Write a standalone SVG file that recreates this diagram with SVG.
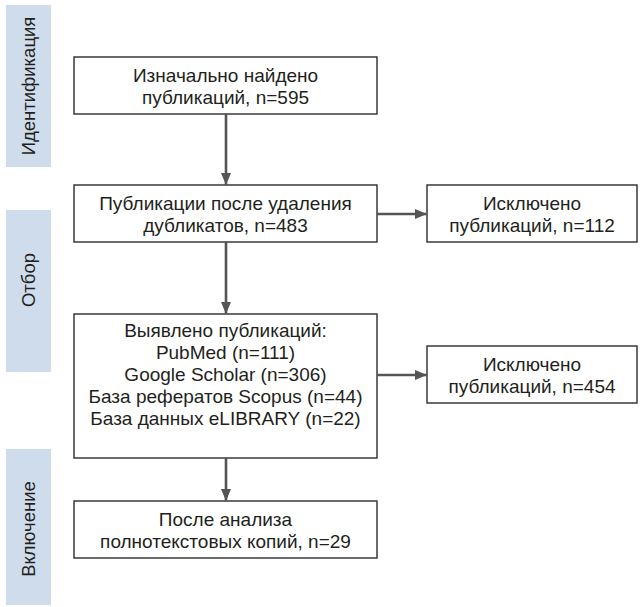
<svg xmlns="http://www.w3.org/2000/svg" width="643" height="607" viewBox="0 0 643 607">
<defs>
<style>
.bar{fill:#cfdcec}
.box{fill:#fff;stroke:#2b2b2b;stroke-width:1.4}
.t{font-family:"Liberation Sans",Arial,sans-serif;font-size:19px;fill:#231f20;text-anchor:middle}
.s{font-family:"Liberation Sans",Arial,sans-serif;font-size:18.5px;fill:#231f20;text-anchor:middle}
.c{stroke:#555;stroke-width:2.6;fill:none}
</style>
<marker id="ah" viewBox="0 0 12 10" refX="12" refY="5" markerWidth="12" markerHeight="10" markerUnits="userSpaceOnUse" orient="auto">
<path d="M0,0 L12,5 L0,10 Z" fill="#555"/>
</marker>
</defs>
<rect width="643" height="607" fill="#fff"/>
<g id="stage-identification">
<rect class="bar" x="6" y="5" width="45" height="162"/>
<text class="s" transform="translate(35,86) rotate(-90)">Идентификация</text>
</g>
<g id="stage-screening">
<rect class="bar" x="6" y="210" width="45" height="162"/>
<text class="s" transform="translate(35,280) rotate(-90)">Отбор</text>
</g>
<g id="stage-inclusion">
<rect class="bar" x="6" y="449" width="45" height="156"/>
<text class="s" transform="translate(35,529) rotate(-90)">Включение</text>
</g>
<g id="n1">
<rect class="box" x="74" y="57" width="303" height="57"/>
<text class="t" x="225.5" y="82">Изначально найдено</text>
<text class="t" x="225.5" y="104">публикаций, n=595</text>
</g>
<g id="n2">
<rect class="box" x="74" y="185" width="303" height="57"/>
<text class="t" x="225.5" y="210">Публикации после удаления</text>
<text class="t" x="225.5" y="232">дубликатов, n=483</text>
</g>
<g id="n3">
<rect class="box" x="427" y="185" width="210" height="57"/>
<text class="t" x="532" y="210">Исключено</text>
<text class="t" x="532" y="232">публикаций, n=112</text>
</g>
<g id="n4">
<rect class="box" x="74" y="314" width="303" height="144"/>
<text class="t" x="225.5" y="337">Выявлено публикаций:</text>
<text class="t" x="225.5" y="359">PubMed (n=111)</text>
<text class="t" x="225.5" y="381">Google Scholar (n=306)</text>
<text class="t" x="225.5" y="403">База рефератов Scopus (n=44)</text>
<text class="t" x="225.5" y="425">База данных eLIBRARY (n=22)</text>
</g>
<g id="n5">
<rect class="box" x="427" y="346" width="210" height="57"/>
<text class="t" x="532" y="371">Исключено</text>
<text class="t" x="532" y="393">публикаций, n=454</text>
</g>
<g id="n6">
<rect class="box" x="74" y="501" width="303" height="57"/>
<text class="t" x="225.5" y="526">После анализа</text>
<text class="t" x="225.5" y="548">полнотекстовых копий, n=29</text>
</g>
<g id="connectors">
<line class="c" x1="226" y1="114" x2="226" y2="185" marker-end="url(#ah)"/>
<line class="c" x1="226" y1="242" x2="226" y2="314" marker-end="url(#ah)"/>
<line class="c" x1="226" y1="458" x2="226" y2="501" marker-end="url(#ah)"/>
<line class="c" x1="377" y1="214" x2="427" y2="214" marker-end="url(#ah)"/>
<line class="c" x1="377" y1="375" x2="427" y2="375" marker-end="url(#ah)"/>
</g>
</svg>
